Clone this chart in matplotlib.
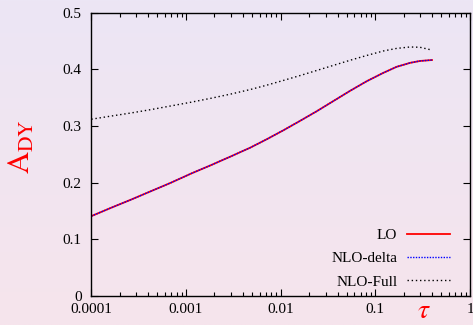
import numpy as np
import matplotlib
matplotlib.use("Agg")
import matplotlib.pyplot as plt
from matplotlib.ticker import LogLocator, NullFormatter

plt.rcParams['font.family'] = ['Liberation Serif', 'DejaVu Serif']
plt.rcParams['mathtext.fontset'] = 'stix'

tau = [1e-4, 1.61e-4, 2.62e-4, 4.27e-4, 6.95e-4, 1.13e-3, 1.84e-3, 2.99e-3, 4.8e-3,
       7.1e-3, 1.07e-2, 1.6e-2, 2.4e-2, 3.6e-2, 5.4e-2, 8.1e-2, 0.122, 0.168, 0.233, 0.296, 0.397]
lo = [0.141, 0.1555, 0.170, 0.185, 0.200, 0.216, 0.231, 0.2465, 0.262,
      0.2765, 0.2925, 0.309, 0.326, 0.344, 0.362, 0.379, 0.394, 0.4045, 0.4115, 0.4148, 0.4165]
nlo_delta = list(lo)
nlo_full = [0.312, 0.3175, 0.323, 0.329, 0.3355, 0.342, 0.349, 0.3565, 0.3645,
            0.372, 0.3805, 0.389, 0.398, 0.407, 0.416, 0.4245, 0.4325, 0.437, 0.4395, 0.439, 0.434]

xticks = [1e-4, 1e-3, 1e-2, 1e-1, 1]
xticklabels = ['0.0001', '0.001', '0.01', '0.1', '1']
yticks = [0, 0.1, 0.2, 0.3, 0.4, 0.5]
yticklabels = ['0', '0.1', '0.2', '0.3', '0.4', '0.5']

W, H = 473, 325
fig = plt.figure(figsize=(W/100, H/100), dpi=100)

# gradient background
bg = fig.add_axes([0, 0, 1, 1], zorder=-10)
top = np.array([236, 230, 245]) / 255
bot = np.array([246, 228, 236]) / 255
t = np.linspace(0, 1, 256)[:, None]
grad = top[None, :] * (1 - t) + bot[None, :] * t
bg.imshow(np.repeat(grad[:, None, :], 2, axis=1), aspect='auto', extent=[0, 1, 0, 1])
bg.axis('off')

ax = fig.add_axes([91.3/W, 1 - 296/H, (470 - 91.3)/W, (296 - 12.7)/H])
ax.patch.set_alpha(0)
ax.plot(tau, lo, color='#ff0000', lw=1.3, label='LO')
ax.plot(tau, nlo_delta, color='#0000ff', lw=1.0, linestyle=(0, (1, 1)), label='NLO-delta')
ax.plot(tau, nlo_full, color='#000000', lw=1.0, linestyle=(0, (1, 2)), label='NLO-Full')

ax.set_xscale('log')
ax.set_xlim(1e-4, 1)
ax.set_ylim(0, 0.5)
ax.set_xticks(xticks)
ax.set_xticklabels(xticklabels)
ax.xaxis.set_minor_locator(LogLocator(base=10, subs=np.arange(2, 10)))
ax.xaxis.set_minor_formatter(NullFormatter())
ax.set_yticks(yticks)
ax.set_yticklabels(yticklabels)
ax.tick_params(which='both', direction='in', top=True, right=True, labelsize=11, colors='black')
ax.tick_params(which='major', length=5, width=0.8)
ax.tick_params(which='minor', length=3, width=0.8)
ax.tick_params(axis='x', pad=5)
ax.tick_params(axis='y', pad=7)
for s in ax.spines.values():
    s.set_linewidth(1.0)

leg = ax.legend(loc='lower right', frameon=False, fontsize=11, markerfirst=False,
                handlelength=2.8, handletextpad=0.65, labelspacing=0.63,
                borderaxespad=0, borderpad=0.4,
                bbox_to_anchor=(0.963, 0.004))

fig.text(22/W, 1 - 147/H, r'$\mathrm{A}_{\mathrm{DY}}$', color='red', fontsize=22,
         rotation=90, ha='center', va='center')
fig.text(424/W, 1 - 324/H, r'$\tau$', color='red', fontsize=20, ha='center', va='bottom')

fig.savefig('out.png', dpi=100)
